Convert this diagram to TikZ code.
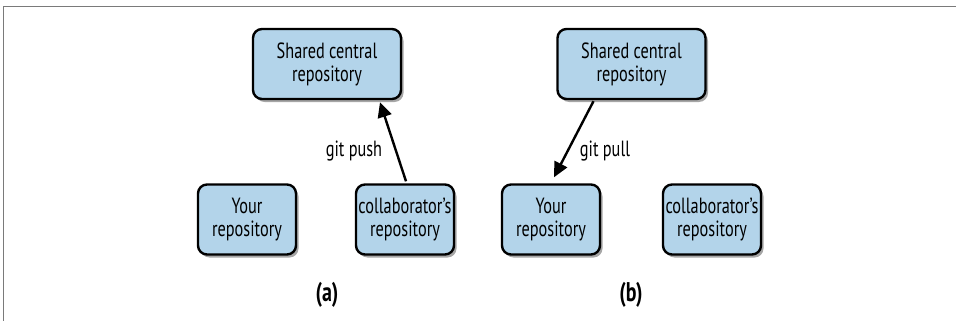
\documentclass[tikz,border=0pt]{standalone}
\usepackage{fontspec}
\setmainfont[FakeStretch=0.74]{PT Sans}
\usetikzlibrary{shadows,arrows.meta}
\definecolor{boxblue}{HTML}{B3D4EA}
\definecolor{framegray}{HTML}{7A7A7A}
\begin{document}
\begin{tikzpicture}[x=1pt,y=-1pt,
  repo/.style={draw=black, line width=2.4pt, fill=boxblue, rounded corners=9pt,
    align=center, inner sep=0pt, minimum height=70pt,
    font=\fontsize{22}{23}\selectfont,
    drop shadow={shadow xshift=2.5pt, shadow yshift=-3pt, opacity=0.35, fill=black}},
  big/.style={repo, minimum width=148pt},
  small/.style={repo, minimum width=98pt},
  lbl/.style={font=\fontsize{22}{23}\selectfont, inner sep=0pt},
  captionlbl/.style={font=\fontsize{27}{28}\selectfont\bfseries, inner sep=0pt},
  arr/.style={line width=2.4pt, -{Triangle[length=15pt,width=14pt]}}]
\useasboundingbox (0,0) rectangle (956,321);
\draw[framegray, line width=1.6pt] (956,6.5) -- (3.5,6.5) -- (3.5,321);
% panel (a)
\node[big]   (sharedA) at (327,64)    {Shared central\\repository};
\node[small] (yourA)   at (247,219.5) {Your\\repository};
\node[small] (collabA) at (405,219.5) {collaborator’s\\repository};
\draw[arr] ([xshift=1pt,yshift=2pt]collabA.north) -- ([xshift=53pt,yshift=-2pt]sharedA.south);
\node[lbl] (push) at (354,151) {git push};
\node[captionlbl] (capA) at (327,295) {(a)};
% panel (b)
\node[big]   (sharedB) at (631.5,64)  {Shared central\\repository};
\node[small] (yourB)   at (551,219.5) {Your\\repository};
\node[small] (collabB) at (712,219.5) {collaborator’s\\repository};
\draw[arr] ([xshift=-38pt,yshift=-1pt]sharedB.south) -- ([xshift=3pt,yshift=6pt]yourB.north);
\node[lbl] (pull) at (605,151) {git pull};
\node[captionlbl] (capB) at (631,295) {(b)};
\end{tikzpicture}
\end{document}
